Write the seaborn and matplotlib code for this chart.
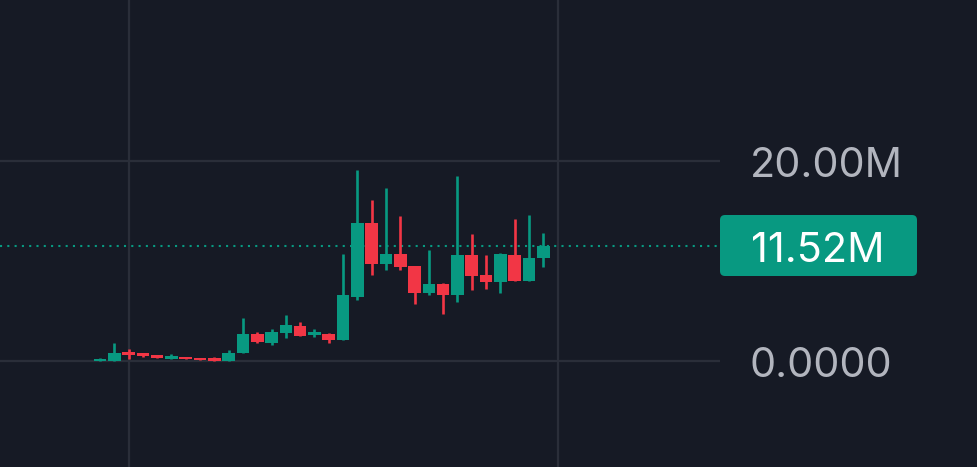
import seaborn as sns
import matplotlib.pyplot as plt
from matplotlib.patches import FancyBboxPatch
from matplotlib.transforms import IdentityTransform, blended_transform_factory
import numpy as np

# candle values in millions
opens = [0.05, 0.05, 0.93, 0.77, 0.6, 0.2, 0.45, 0.35, 0.3, 0.05,
         0.8, 2.75, 1.8, 2.8, 3.5, 2.65, 2.75, 2.1, 6.45, 13.85,
         9.7, 10.75, 9.55, 6.8, 7.75, 6.6, 10.65, 8.6, 7.95, 10.65,
         8.0, 10.3]
highs = [0.3, 1.85, 1.25, 0.8, 0.6, 0.67, 0.45, 0.35, 0.43, 1.1,
         4.35, 2.95, 3.25, 4.6, 3.95, 3.25, 2.85, 10.75, 19.15, 16.15,
         17.35, 14.5, 9.55, 11.15, 7.8, 18.5, 12.7, 10.65, 10.85, 14.25,
         14.6, 12.85]
lows = [0.0, 0.05, 0.25, 0.37, 0.27, 0.2, 0.2, 0.1, -0.02, 0.05,
        0.8, 1.85, 1.6, 2.35, 2.5, 2.4, 1.85, 2.1, 6.1, 8.65,
        9.15, 9.1, 5.75, 6.6, 4.75, 5.95, 7.15, 7.25, 6.85, 8.0,
        8.0, 9.45]
closes = [0.25, 0.85, 0.6, 0.55, 0.3, 0.5, 0.2, 0.1, 0.0, 0.85,
          2.75, 1.9, 2.9, 3.6, 2.5, 2.95, 2.1, 6.6, 13.85, 9.7,
          10.75, 9.45, 6.8, 7.75, 6.6, 10.65, 8.5, 7.95, 10.7, 8.0,
          10.35, 11.52]
y_ticks = [0, 20]
y_tick_labels = ['0.0000', '20.00M']
last_price = 11.52
last_label = '11.52M'
x_grid = [2, 32]

BG = '#161a25'
UP = '#089981'
DOWN = '#f23645'
GRID = '#2a2e39'
LABEL = '#b2b5be'

sns.set_theme(style='dark', rc={'axes.facecolor': BG, 'figure.facecolor': BG})
plt.rcParams['font.family'] = ['Inter', 'DejaVu Sans']

fig = plt.figure(figsize=(9.77, 4.67), dpi=100)
ax = fig.add_axes([0, 0, 720 / 977, 1])
ax.set_facecolor(BG)

o = np.array(opens)
c = np.array(closes)
idx = np.arange(len(o))
colors = [UP if cc >= oo else DOWN for oo, cc in zip(o, c)]

# grid lines
for v in y_ticks:
    ax.axhline(v, color=GRID, lw=1.6, zorder=0)
for v in x_grid:
    ax.axvline(v, color=GRID, lw=1.6, zorder=0)

# wicks and bodies
ax.vlines(idx, lows, highs, colors=colors, lw=1.9, zorder=2)
bottoms = np.minimum(o, c)
heights = np.maximum(np.abs(c - o), 0.12)
ax.bar(idx, heights, bottom=bottoms, width=0.88, color=colors, linewidth=0, zorder=3)

# last price dotted line
ax.axhline(last_price, color=UP, lw=1.5, linestyle=(0, (1, 2.5)), zorder=1)

ax.set_xlim(-6.99, 43.36)
ax.set_ylim(-10.6, 36.1)
ax.set_xticks([])
ax.set_yticks([])
for s in ax.spines.values():
    s.set_visible(False)

# right price scale labels (x in figure fraction, y in data)
tr = blended_transform_factory(fig.transFigure, ax.transData)
for v, lab in zip(y_ticks, y_tick_labels):
    fig.text(750 / 977, v - 1.57, lab, transform=tr, color=LABEL, fontsize=29.8,
             ha='left', va='baseline')

# last price tag
box = FancyBboxPatch((720, 191), 197, 61, boxstyle='round,pad=0,rounding_size=5',
                     transform=IdentityTransform(), facecolor=UP, edgecolor='none', zorder=2)
fig.add_artist(box)
fig.text(751 / 977, last_price - 1.62, last_label, transform=tr, color='white',
         fontsize=29.8, ha='left', va='baseline', zorder=5)

plt.savefig('out.png', dpi=100, facecolor=BG)
